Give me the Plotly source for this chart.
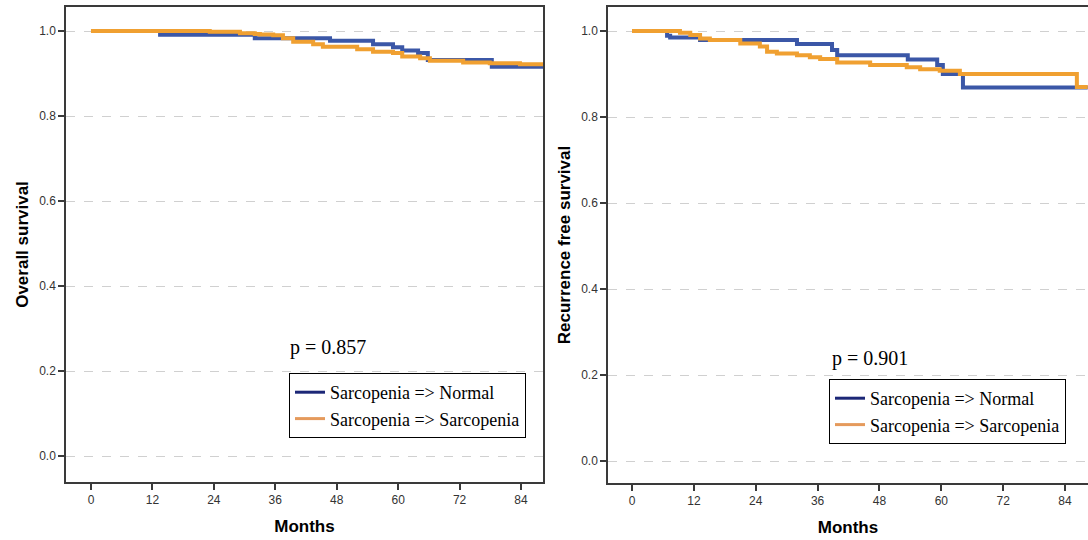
import plotly.graph_objects as go

# ---------------- data ----------------
# Left panel: overall survival
os_normal_t = [0, 13.5, 32.0, 46.7, 55.1, 59.0, 60.8, 63.9, 65.8, 78.3, 88.3]
os_normal_s = [1.0, 0.991, 0.983, 0.977, 0.969, 0.962, 0.954, 0.948, 0.932, 0.916, 0.916]
os_sarc_t = [0, 23.2, 29.1, 32.0, 33.0, 35.6, 37.5, 39.5, 43.4, 45.3, 52.0, 55.1,
             59.0, 60.8, 64.3, 66.2, 72.7, 77.9, 83.8, 88.3]
os_sarc_s = [1.0, 0.998, 0.995, 0.993, 0.992, 0.990, 0.983, 0.975, 0.969, 0.963, 0.957, 0.951,
             0.948, 0.940, 0.936, 0.930, 0.926, 0.924, 0.922, 0.922]

# Right panel: recurrence free survival
rfs_normal_t = [0, 6.8, 7.4, 13.2, 32.0, 38.8, 39.8, 53.5, 59.2, 60.3, 64.2, 88.4]
rfs_normal_s = [1.0, 0.989, 0.985, 0.979, 0.970, 0.956, 0.944, 0.934, 0.921, 0.900, 0.869, 0.869]
rfs_sarc_t = [0, 9.3, 11.3, 13.2, 15.1, 21.0, 24.8, 26.2, 28.1, 32.0, 34.5, 36.5, 39.8,
              46.2, 53.3, 55.9, 59.7, 63.6, 86.3, 88.4]
rfs_sarc_s = [1.0, 0.996, 0.991, 0.983, 0.979, 0.971, 0.964, 0.952, 0.948, 0.944, 0.939, 0.935, 0.927,
              0.921, 0.916, 0.911, 0.908, 0.900, 0.870, 0.870]

group_names = ["Sarcopenia => Normal", "Sarcopenia => Sarcopenia"]
p_values = ["p = 0.857", "p = 0.901"]
y_titles = ["Overall survival", "Recurrence free survival"]
x_ticks = [0, 12, 24, 36, 48, 60, 72, 84]
y_ticks = [0.0, 0.2, 0.4, 0.6, 0.8, 1.0]

# ---------------- styles ----------------
W, H = 1088, 540
BLUE = "#3b57a7"
ORANGE = "#f0a031"
LEG_BLUE = "#1c2777"
LEG_ORANGE = "#e59a5c"
AXIS_COL = "#3a3a3a"

fig = go.Figure()

def add_curve(t, s, color, xa, ya):
    fig.add_trace(go.Scatter(x=t, y=s, mode="lines", line=dict(color=color, width=4, shape="hv"),
                             xaxis=xa, yaxis=ya, showlegend=False, hoverinfo="skip"))

add_curve(os_normal_t, os_normal_s, BLUE, "x", "y")
add_curve(os_sarc_t, os_sarc_s, ORANGE, "x", "y")
add_curve(rfs_normal_t, rfs_normal_s, BLUE, "x2", "y2")
add_curve(rfs_sarc_t, rfs_sarc_s, ORANGE, "x2", "y2")

# legend-only entries (legend colours differ slightly from the plotted lines)
for leg, xa, ya in [("legend", "x", "y"), ("legend2", "x2", "y2")]:
    for name, col in zip(group_names, [LEG_BLUE, LEG_ORANGE]):
        fig.add_trace(go.Scatter(x=[None], y=[None], mode="lines", name=name,
                                 line=dict(color=col, width=3), xaxis=xa, yaxis=ya,
                                 legend=leg, showlegend=True))

def px(x):
    return x / W

def py(y):
    return 1 - y / H

tick_font = dict(family="Liberation Sans, Arial, sans-serif", size=12, color="#333333")
title_font = dict(family="Liberation Sans, Arial, sans-serif", size=17, color="black")
serif = "Liberation Serif, Times New Roman, serif"

def xaxis(domain, rng, mirror):
    return dict(domain=domain, range=rng, tickmode="array", tickvals=x_ticks,
                ticks="outside", ticklen=6, tickwidth=1.5, tickcolor=AXIS_COL,
                showline=True, linecolor=AXIS_COL, linewidth=1.5, mirror=mirror,
                showgrid=False, zeroline=False, tickfont=tick_font,
                title=dict(text="<b>Months</b>", font=title_font, standoff=14))

def yaxis(domain, rng, mirror, title, anchor):
    return dict(domain=domain, range=rng, tickmode="array", tickvals=y_ticks,
                ticktext=[f"{v:.1f}" for v in y_ticks],
                ticks="outside", ticklen=6, tickwidth=1.5, tickcolor=AXIS_COL,
                showline=True, linecolor=AXIS_COL, linewidth=1.5, mirror=mirror,
                showgrid=True, gridcolor="#d0d0d0", gridwidth=1, griddash="dash",
                zeroline=False, tickfont=tick_font, anchor=anchor,
                title=dict(text=f"<b>{title}</b>", font=title_font, standoff=6))

fig.update_layout(
    width=W, height=H,
    margin=dict(l=0, r=0, t=0, b=0),
    paper_bgcolor="white", plot_bgcolor="white",
    xaxis=dict(xaxis([px(66), px(543)], [-4.88, 88.3], True), anchor="y"),
    yaxis=yaxis([py(482), py(7)], [-0.061, 1.0565], True, y_titles[0], "x"),
    xaxis2=dict(xaxis([px(608), 1.0], [-4.66, 88.46], True), anchor="y2"),
    yaxis2=yaxis([py(483), py(7)], [-0.051, 1.056], False, y_titles[1], "x2"),
    legend=dict(x=px(289), y=py(373), xanchor="left", yanchor="top",
                bordercolor="black", borderwidth=1, bgcolor="white",
                font=dict(family=serif, size=18, color="black"),
                itemwidth=30, tracegroupgap=0),
    legend2=dict(x=px(829), y=py(379), xanchor="left", yanchor="top",
                 bordercolor="black", borderwidth=1, bgcolor="white",
                 font=dict(family=serif, size=18, color="black"),
                 itemwidth=30, tracegroupgap=0),
    annotations=[
        dict(x=px(328), y=py(347), xref="paper", yref="paper", text=p_values[0], showarrow=False,
             xanchor="center", yanchor="middle",
             font=dict(family=serif, size=20, color="black")),
        dict(x=px(870), y=py(358), xref="paper", yref="paper", text=p_values[1], showarrow=False,
             xanchor="center", yanchor="middle",
             font=dict(family=serif, size=20, color="black")),
    ],
)

fig.write_html("out.html")
